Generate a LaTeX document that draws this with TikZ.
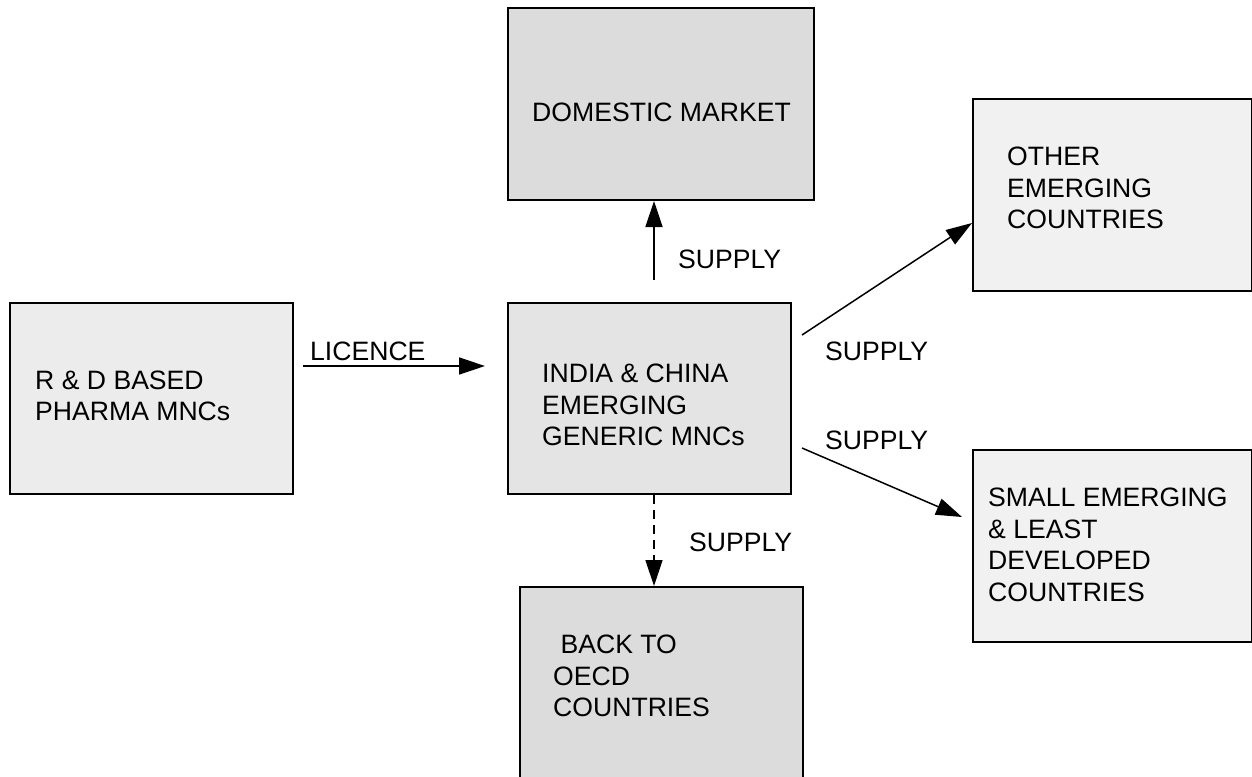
\documentclass[tikz,border=0pt]{standalone}
\usepackage{fontspec}
\setmainfont{Liberation Sans}
\usetikzlibrary{arrows.meta}
\definecolor{fillstripe}{HTML}{E4E4E4}
\definecolor{fillhatch}{HTML}{DCDCDC}
\definecolor{filldot}{HTML}{F1F1F1}
\definecolor{filldotb}{HTML}{ECECEC}
\tikzset{
  boxnode/.style={draw=black, line width=2pt, inner sep=0pt, anchor=north west},
  txt/.style={inner sep=0pt, anchor=west, align=left, font=\fontsize{26.6}{31.5}\selectfont},
  arr/.style={line width=1.5pt, -{Triangle[length=26pt,width=17pt]}},
  darr/.style={arr, dash pattern=on 9pt off 6pt}
}
\begin{document}
\begin{tikzpicture}[x=1pt,y=-1pt]
\useasboundingbox (0,0) rectangle (1252,776);
% boxes
\node[boxnode, fill=filldotb, minimum width=283pt, minimum height=191pt] (rd) at (9,302) {};
\node[boxnode, fill=fillstripe, minimum width=283pt, minimum height=191pt] (ic) at (507,302) {};
\node[boxnode, fill=fillhatch, minimum width=306pt, minimum height=192pt] (dm) at (507,7) {};
\node[boxnode, fill=filldot, minimum width=279pt, minimum height=192pt] (oe) at (972,98) {};
\node[boxnode, fill=filldot, minimum width=279pt, minimum height=192pt] (se) at (972,449) {};
\node[boxnode, fill=fillhatch, minimum width=283pt, minimum height=200pt] (oecd) at (519,586) {};
% texts
\node[txt] (trd) at (35,396) {R \& D BASED\\PHARMA MNCs};
\node[txt] (tic) at (542,405) {INDIA \& CHINA\\EMERGING\\GENERIC MNCs};
\node[txt] (tdm) at (532,112) {DOMESTIC MARKET};
\node[txt] (toe) at (1007,188) {OTHER\\EMERGING\\COUNTRIES};
\node[txt] (tse) at (988,545) {SMALL EMERGING\\\& LEAST\\DEVELOPED\\COUNTRIES};
\node[txt] (toecd) at (553,676) {\ BACK TO\\OECD\\COUNTRIES};
% labels
\node[txt] (llic) at (310,351) {LICENCE};
\node[txt] (lup) at (678,259) {SUPPLY};
\node[txt] (loe) at (825,351) {SUPPLY};
\node[txt] (lse) at (825,440) {SUPPLY};
\node[txt] (ldn) at (689,542) {SUPPLY};
% connector ends
\coordinate (a1) at (303,366);
\coordinate (a1e) at (485,366);
\coordinate (a2) at (654,280);
\coordinate (a2e) at (654,201);
\coordinate (a3) at (802,335);
\coordinate (a3e) at (972,223);
\coordinate (a4) at (802,448);
\coordinate (a4e) at (962,517);
\coordinate (a5) at (654,495);
\coordinate (a5e) at (654,586);
% connectors
\draw[arr] (a1) -- (a1e);
\draw[arr] (a2) -- (a2e);
\draw[arr] (a3) -- (a3e);
\draw[arr] (a4) -- (a4e);
\draw[darr] (a5) -- (a5e);
\end{tikzpicture}
\end{document}
